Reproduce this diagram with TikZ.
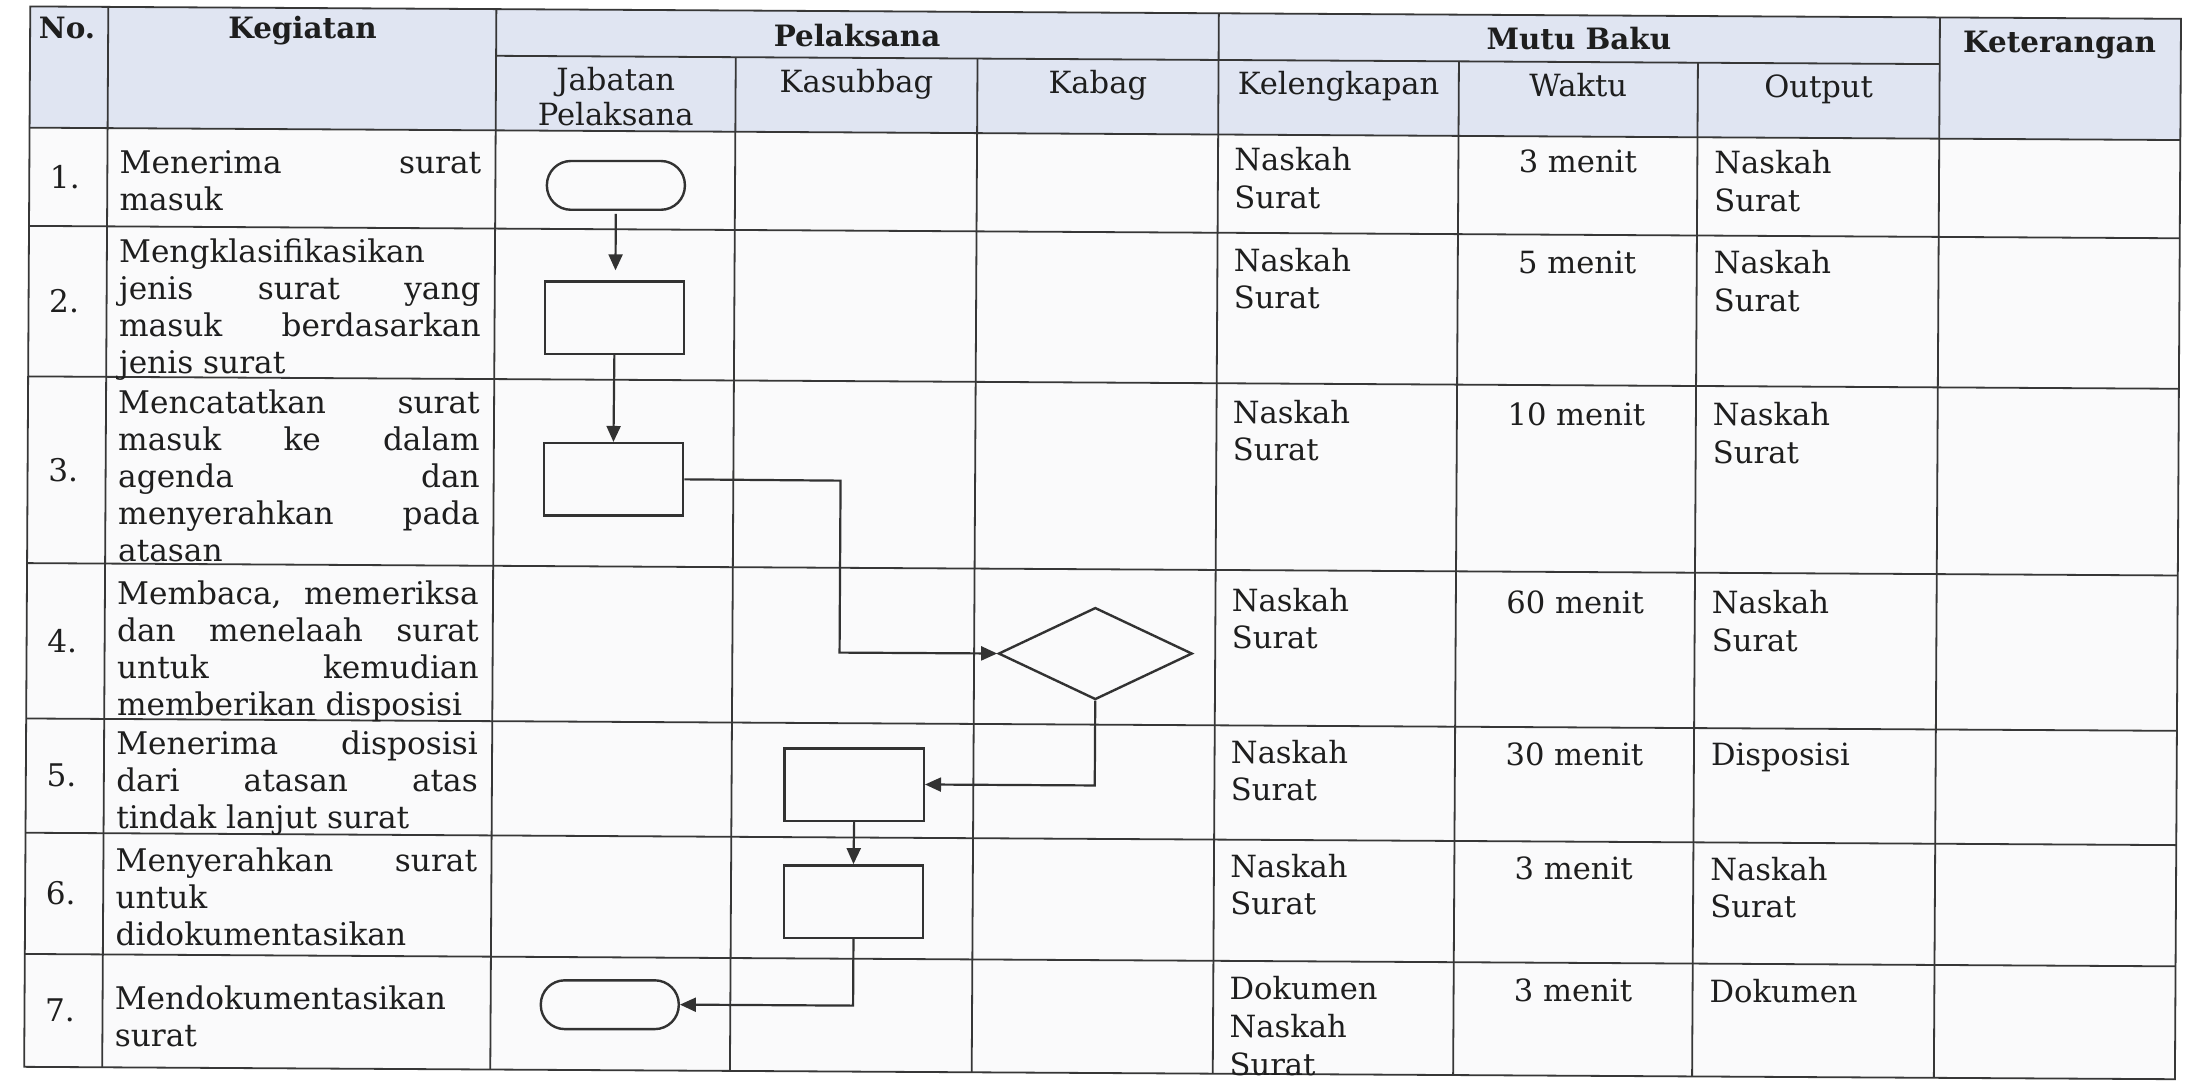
\documentclass[tikz,border=0pt]{standalone}
\usepackage{fontspec}
\newfontfamily\bkfont{DejaVu Serif}
\usetikzlibrary{shapes.geometric,arrows.meta}
\definecolor{linec}{RGB}{55,55,55}
\definecolor{flowc}{RGB}{50,50,50}
\definecolor{textc}{RGB}{30,30,30}
\definecolor{headfill}{RGB}{224,229,242}
\definecolor{bodyfill}{RGB}{250,250,251}
\newcommand\fKeg{\bkfont\fontsize{15.6}{18.5}\selectfont}
\newcommand\fHd{\bkfont\bfseries\fontsize{14.7}{17}\selectfont}
\newcommand\fLM{\bkfont\fontsize{15.3}{18.8}\selectfont}
\newcommand\fLMh{\bkfont\fontsize{15.3}{17.4}\selectfont}
\newcommand\JL[1]{\makebox[\linewidth][s]{#1}}
\newcommand\kegcell[1]{\parbox[t]{180.8pt}{\fKeg #1}}
\newcommand\mcell[1]{\parbox[t]{110pt}{\fLM #1}}
\begin{document}
\begin{tikzpicture}[x=0.6968pt,y=-0.6968pt,
 tline/.style={draw=linec, line width=0.9pt},
 shp/.style={draw=flowc, line width=1.2pt, inner sep=0pt},
 proc/.style={shp, rectangle, minimum width=69.7pt, minimum height=36.2pt},
 term/.style={shp, rectangle, rounded corners=12pt, minimum width=69pt, minimum height=24.4pt},
 dec/.style={shp, diamond, minimum width=96.9pt, minimum height=46pt},
 flow/.style={draw=flowc, line width=1.1pt, -{Triangle[length=8pt,width=7pt]}},
 txt/.style={inner sep=0pt, text=textc}]
\useasboundingbox (0,0) rectangle (1568,775.7);
\fill[white] (0,0) rectangle (1568,775.7);
\begin{scope}[rotate around={-0.33:(784,388)}]
% fills
\fill[bodyfill] (19.5,9) rectangle (1563,770);
\fill[headfill] (19.5,9) rectangle (1563,96);
% grid
\draw[tline] (19.5,9) rectangle (1563,770);
\foreach \yy in {96,166.5,274.5,408.5,520,602,689}{\draw[tline] (19.5,\yy) -- (1563,\yy);}
\draw[tline] (354,42.5) -- (1390,42.5);
\foreach \xx in {75.5,354,872.5,1390}{\draw[tline] (\xx,9) -- (\xx,770);}
\foreach \xx in {526,699.5,1045,1216.5}{\draw[tline] (\xx,42.5) -- (\xx,770);}
% header texts
\node[txt,anchor=base] (hno) at (46,32) {\fHd No.};
\node[txt,anchor=base] (hkeg) at (215,31) {\fHd Kegiatan};
\node[txt,anchor=base] (hpel) at (613,34.5) {\fHd Pelaksana};
\node[txt,anchor=base] (hmut) at (1131,33.5) {\fHd Mutu Baku};
\node[txt,anchor=base] (hket) at (1476,33.5) {\fHd Keterangan};
\node[txt,anchor=base] (hjab) at (440,67) {\parbox[t]{120pt}{\centering\fLMh Jabatan\\Pelaksana}};
\node[txt,anchor=base] (hkas) at (612.75,67) {\fLM Kasubbag};
\node[txt,anchor=base] (hkab) at (786,67) {\fLM Kabag};
\node[txt,anchor=base] (hkel) at (958.75,67) {\fLM Kelengkapan};
\node[txt,anchor=base] (hwak) at (1130.75,67) {\fLM Waktu};
\node[txt,anchor=base] (hout) at (1303.25,67) {\fLM Output};
% numbers
\node[txt] (n1) at (45,131.25) {\fKeg 1.};
\node[txt] (n2) at (45,220.5) {\fKeg 2.};
\node[txt] (n3) at (45,341.5) {\fKeg 3.};
\node[txt] (n4) at (45,464.25) {\fKeg 4.};
\node[txt] (n5) at (45,561) {\fKeg 5.};
\node[txt] (n6) at (45,645.5) {\fKeg 6.};
\node[txt] (n7) at (45,729.5) {\fKeg 7.};
% kegiatan
\node[txt,anchor=base west] (k1) at (84,128.5) {\kegcell{\JL{Menerima surat}\\masuk}};
\node[txt,anchor=base west] (k2) at (84,192.5) {\kegcell{Mengklasifikasikan\\\JL{jenis surat yang}\\\JL{masuk berdasarkan}\\jenis surat}};
\node[txt,anchor=base west] (k3) at (84,300.5) {\kegcell{\JL{Mencatatkan surat}\\\JL{masuk ke dalam}\\\JL{agenda dan}\\\JL{menyerahkan pada}\\atasan}};
\node[txt,anchor=base west] (k4) at (84,438) {\kegcell{\JL{Membaca, memeriksa}\\\JL{dan menelaah surat}\\\JL{untuk kemudian}\\memberikan disposisi}};
\node[txt,anchor=base west] (k5) at (84,545.5) {\kegcell{\JL{Menerima disposisi}\\\JL{dari atasan atas}\\tindak lanjut surat}};
\node[txt,anchor=base west] (k6) at (84,629.5) {\kegcell{\JL{Menyerahkan surat}\\untuk\\didokumentasikan}};
\node[txt,anchor=base west] (k7) at (84,728.5) {\kegcell{Mendokumentasikan\\surat}};
% mutu baku
\node[txt,anchor=base west] (l1) at (884,122) {\mcell{Naskah\\Surat}};
\node[txt,anchor=base west] (l2) at (884,194) {\mcell{Naskah\\Surat}};
\node[txt,anchor=base west] (l3) at (884,303) {\mcell{Naskah\\Surat}};
\node[txt,anchor=base west] (l4) at (884,438) {\mcell{Naskah\\Surat}};
\node[txt,anchor=base west] (l5) at (884,547) {\mcell{Naskah\\Surat}};
\node[txt,anchor=base west] (l6) at (884,629) {\mcell{Naskah\\Surat}};
\node[txt,anchor=base west] (l7) at (884,717) {\mcell{Dokumen\\Naskah\\Surat}};
\node[txt,anchor=base] (w1) at (1130.75,122) {\fLM 3 menit};
\node[txt,anchor=base] (w2) at (1130.75,194) {\fLM 5 menit};
\node[txt,anchor=base] (w3) at (1130.75,303) {\fLM 10 menit};
\node[txt,anchor=base] (w4) at (1130.75,438) {\fLM 60 menit};
\node[txt,anchor=base] (w5) at (1130.75,547) {\fLM 30 menit};
\node[txt,anchor=base] (w6) at (1130.75,629) {\fLM 3 menit};
\node[txt,anchor=base] (w7) at (1130.75,717) {\fLM 3 menit};
\node[txt,anchor=base west] (o1) at (1228.5,122) {\mcell{Naskah\\Surat}};
\node[txt,anchor=base west] (o2) at (1228.5,194) {\mcell{Naskah\\Surat}};
\node[txt,anchor=base west] (o3) at (1228.5,303) {\mcell{Naskah\\Surat}};
\node[txt,anchor=base west] (o4) at (1228.5,438) {\mcell{Naskah\\Surat}};
\node[txt,anchor=base west] (o5) at (1228.5,547) {\mcell{Disposisi}};
\node[txt,anchor=base west] (o6) at (1228.5,629) {\mcell{Naskah\\Surat}};
\node[txt,anchor=base west] (o7) at (1228.5,717) {\mcell{Dokumen}};
% flowchart
\node[term] (t1) at (440.5,135) {};
\node[proc] (r2) at (440,230) {};
\node[proc] (r3) at (440,346) {};
\node[dec] (d4) at (786.5,469) {};
\node[proc] (r5) at (614,564) {};
\node[proc] (r6) at (614,648) {};
\node[term] (t7) at (439.5,723) {};
\coordinate (b34) at (603,346);
\draw[flow,shorten <=1.5pt,shorten >=5pt] (t1.south) -- (t1.south |- r2.north);
\draw[flow] (r2.south) -- (r3.north);
\draw[flow] (r3.east) -- (b34) |- (d4.west);
\draw[flow] (d4.south) |- (r5.east);
\draw[flow] (r5.south) -- (r6.north);
\draw[flow] (r6.south) |- (t7.east);
\end{scope}
\end{tikzpicture}
\end{document}
